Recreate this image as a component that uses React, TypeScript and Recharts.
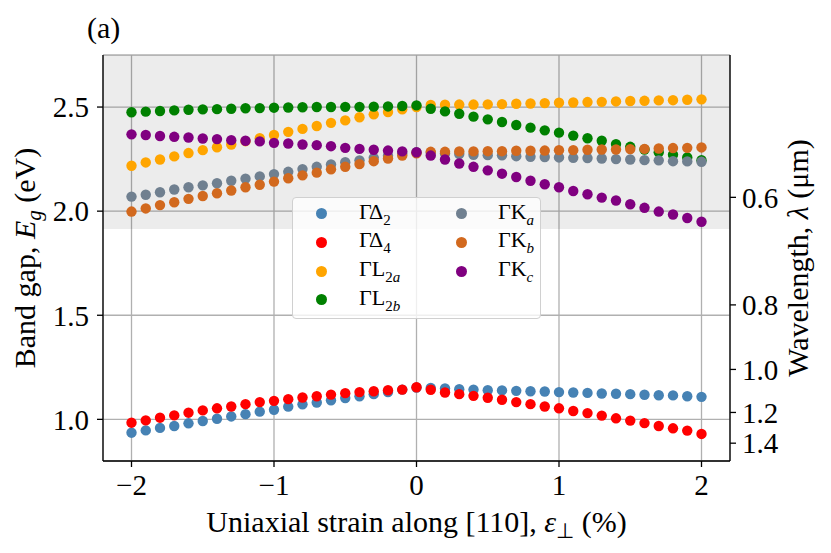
import React from "react";
import {
  ScatterChart,
  Scatter,
  XAxis,
  YAxis,
  CartesianGrid,
  ReferenceArea,
  Legend,
} from "recharts";

const FONT = "'Liberation Serif', 'Times New Roman', serif";

// strain along [110], in %
const STRAIN = [
  -2.0, -1.9, -1.8, -1.7, -1.6, -1.5, -1.4, -1.3, -1.2, -1.1, -1.0, -0.9, -0.8,
  -0.7, -0.6, -0.5, -0.4, -0.3, -0.2, -0.1, 0.0, 0.1, 0.2, 0.3, 0.4, 0.5, 0.6,
  0.7, 0.8, 0.9, 1.0, 1.1, 1.2, 1.3, 1.4, 1.5, 1.6, 1.7, 1.8, 1.9, 2.0,
];

// band gaps (eV)
const G_DELTA2 = [
  0.936, 0.947, 0.959, 0.968, 0.981, 0.992, 1.003, 1.014, 1.025, 1.037, 1.046,
  1.061, 1.072, 1.081, 1.092, 1.102, 1.111, 1.121, 1.131, 1.143, 1.153, 1.151,
  1.148, 1.145, 1.143, 1.14, 1.139, 1.137, 1.135, 1.134, 1.131, 1.129, 1.127,
  1.124, 1.123, 1.121, 1.118, 1.116, 1.115, 1.111, 1.108,
];
const G_DELTA4 = [
  0.984, 0.995, 1.008, 1.019, 1.032, 1.043, 1.053, 1.062, 1.073, 1.083, 1.089,
  1.097, 1.105, 1.111, 1.119, 1.126, 1.131, 1.135, 1.14, 1.143, 1.154, 1.142,
  1.129, 1.121, 1.113, 1.104, 1.094, 1.083, 1.073, 1.062, 1.053, 1.04, 1.03,
  1.018, 1.005, 0.994, 0.982, 0.968, 0.957, 0.946, 0.93,
];
const G_L2A = [
  2.218, 2.234, 2.248, 2.263, 2.279, 2.293, 2.307, 2.32, 2.336, 2.35, 2.366,
  2.381, 2.395, 2.409, 2.424, 2.436, 2.451, 2.465, 2.476, 2.489, 2.5, 2.51,
  2.511, 2.512, 2.512, 2.513, 2.514, 2.516, 2.517, 2.519, 2.521, 2.522, 2.524,
  2.525, 2.527, 2.529, 2.53, 2.532, 2.533, 2.535, 2.537,
];
const G_L2B = [
  2.475, 2.478, 2.481, 2.484, 2.487, 2.489, 2.49, 2.492, 2.494, 2.495, 2.497,
  2.498, 2.499, 2.5, 2.5, 2.501, 2.501, 2.502, 2.503, 2.505, 2.508, 2.492,
  2.479, 2.468, 2.454, 2.441, 2.428, 2.414, 2.401, 2.388, 2.377, 2.363, 2.35,
  2.338, 2.322, 2.309, 2.296, 2.283, 2.271, 2.258, 2.245,
];
const G_KA = [
  2.07, 2.079, 2.091, 2.104, 2.115, 2.124, 2.134, 2.146, 2.156, 2.167, 2.178,
  2.189, 2.202, 2.213, 2.224, 2.235, 2.244, 2.256, 2.266, 2.276, 2.283, 2.28,
  2.277, 2.274, 2.271, 2.269, 2.268, 2.264, 2.261, 2.26, 2.258, 2.256, 2.255,
  2.253, 2.25, 2.248, 2.245, 2.244, 2.24, 2.239, 2.237,
];
const G_KB = [
  1.998, 2.013, 2.029, 2.043, 2.059, 2.073, 2.086, 2.099, 2.115, 2.127, 2.142,
  2.158, 2.172, 2.185, 2.201, 2.213, 2.226, 2.24, 2.253, 2.267, 2.278, 2.285,
  2.285, 2.287, 2.287, 2.288, 2.288, 2.29, 2.29, 2.291, 2.293, 2.293, 2.295,
  2.296, 2.296, 2.298, 2.299, 2.301, 2.303, 2.304, 2.306,
];
const G_KC = [
  2.369, 2.366, 2.361, 2.357, 2.354, 2.349, 2.346, 2.341, 2.338, 2.335, 2.328,
  2.325, 2.32, 2.317, 2.312, 2.304, 2.299, 2.295, 2.291, 2.287, 2.283, 2.267,
  2.248, 2.229, 2.213, 2.196, 2.18, 2.164, 2.146, 2.129, 2.115, 2.097, 2.081,
  2.065, 2.051, 2.033, 2.016, 1.998, 1.984, 1.967, 1.949,
];

const X_TICKS = [-2, -1, 0, 1, 2];
const Y_TICKS = [1.0, 1.5, 2.0, 2.5];
const WAVELENGTH_TICKS = [0.6, 0.8, 1.0, 1.2, 1.4]; // um
const HC = 1.2398; // eV * um
const VISIBLE_EDGE = 1.914; // eV, lower edge of shaded band

const sub = (t: string, italic = false) => (
  <span
    style={{
      fontSize: 15,
      position: "relative",
      top: 6,
      fontStyle: italic ? "italic" : "normal",
    }}
  >
    {t}
  </span>
);

const SERIES = [
  { key: "d2", color: "#4682B4", values: G_DELTA2, label: <>ΓΔ{sub("2")}</> },
  { key: "d4", color: "#FF0000", values: G_DELTA4, label: <>ΓΔ{sub("4")}</> },
  {
    key: "l2a",
    color: "#FFA500",
    values: G_L2A,
    label: (
      <>
        ΓL
        <span style={{ fontSize: 15, position: "relative", top: 6 }}>
          2<i>a</i>
        </span>
      </>
    ),
  },
  {
    key: "l2b",
    color: "#008000",
    values: G_L2B,
    label: (
      <>
        ΓL
        <span style={{ fontSize: 15, position: "relative", top: 6 }}>
          2<i>b</i>
        </span>
      </>
    ),
  },
  { key: "ka", color: "#708090", values: G_KA, label: <>ΓK{sub("a", true)}</> },
  { key: "kb", color: "#D2691E", values: G_KB, label: <>ΓK{sub("b", true)}</> },
  { key: "kc", color: "#800080", values: G_KC, label: <>ΓK{sub("c", true)}</> },
];

const fmtMinus = (v: number) => (v < 0 ? `\u2212${Math.abs(v)}` : `${v}`);

function LegendBox() {
  // two columns: 4 entries then 3 entries
  const rows = 4;
  return (
    <div
      style={{
        position: "relative",
        width: 249,
        height: 122,
        boxSizing: "border-box",
        background: "rgba(255,255,255,0.8)",
        border: "1.2px solid #d0d0d0",
        borderRadius: 4,
        fontFamily: FONT,
        fontSize: 22,
        color: "#000",
      }}
    >
      {SERIES.map((s, i) => {
        const col = Math.floor(i / rows);
        const row = i % rows;
        const top = 15.5 + row * 28.8;
        return (
          <div key={s.key}>
            <div
              style={{
                position: "absolute",
                left: (col ? 168 : 28) - 5.5,
                top: top - 5.5,
                width: 11,
                height: 11,
                borderRadius: "50%",
                background: s.color,
              }}
            />
            <div
              style={{
                position: "absolute",
                left: col ? 205 : 66,
                top: top - 14,
                lineHeight: "24px",
                whiteSpace: "nowrap",
              }}
            >
              {s.label}
            </div>
          </div>
        );
      })}
    </div>
  );
}

function BandGapLabel({ viewBox }: any) {
  const cx = viewBox.x + 35;
  const cy = viewBox.y + viewBox.height / 2;
  return (
    <text
      x={cx}
      y={cy}
      transform={`rotate(-90 ${cx} ${cy})`}
      textAnchor="middle"
      fontFamily={FONT}
      fontSize={30}
      fill="#000"
    >
      Band gap, <tspan fontStyle="italic">E</tspan>
      <tspan fontStyle="italic" fontSize={21} dy={6}>
        g
      </tspan>
      <tspan dy={-6}> (eV)</tspan>
    </text>
  );
}

function WavelengthLabel({ viewBox }: any) {
  const cx = viewBox.x + 78;
  const cy = viewBox.y + viewBox.height / 2;
  return (
    <text
      x={cx}
      y={cy}
      transform={`rotate(-90 ${cx} ${cy})`}
      textAnchor="middle"
      fontFamily={FONT}
      fontSize={30}
      fill="#000"
    >
      Wavelength, <tspan fontStyle="italic">λ</tspan> (μm)
    </text>
  );
}

function StrainLabel({ viewBox }: any) {
  const cx = viewBox.x + viewBox.width / 2;
  const cy = viewBox.y + 71;
  return (
    <text
      x={cx}
      y={cy}
      textAnchor="middle"
      fontFamily={FONT}
      fontSize={30}
      fill="#000"
    >
      Uniaxial strain along [110], <tspan fontStyle="italic">ε</tspan>
      <tspan fontSize={21} dy={6}>
        ⊥
      </tspan>
      <tspan dy={-6}> (%)</tspan>
    </text>
  );
}

const tickStyle = { fontFamily: FONT, fontSize: 29, fill: "#000" };
const axisStroke = { stroke: "#000", strokeWidth: 1.3 };

export default function App() {
  const rightTicks = WAVELENGTH_TICKS.map((l) => HC / l);
  return (
    <div style={{ position: "absolute", left: 0, top: 0, background: "#fff" }}>
      <div
        style={{
          position: "absolute",
          left: 87,
          top: 11,
          fontFamily: FONT,
          fontSize: 30,
          zIndex: 2,
        }}
      >
        (a)
      </div>
      <ScatterChart
        width={831}
        height={553}
        margin={{ top: 55, right: 41, bottom: 42, left: 0 }}
      >
        <ReferenceArea
          xAxisId="bottom"
          yAxisId="left"
          x1={-2.2}
          x2={2.2}
          y1={VISIBLE_EDGE}
          y2={2.75}
          fill="#000"
          fillOpacity={0.075}
          stroke="none"
        />
        <CartesianGrid
          xAxisId="bottom"
          yAxisId="left"
          stroke="#b0b0b0"
          strokeWidth={1.3}
        />
        <XAxis
          xAxisId="bottom"
          dataKey="x"
          type="number"
          domain={[-2.2, 2.2]}
          ticks={X_TICKS}
          tickFormatter={fmtMinus}
          interval={0}
          height={50}
          tickSize={6}
          tickMargin={7}
          tick={tickStyle}
          tickLine={axisStroke}
          axisLine={axisStroke}
          allowDataOverflow
          label={<StrainLabel />}
        />
        <XAxis
          xAxisId="top"
          orientation="top"
          type="number"
          domain={[-2.2, 2.2]}
          height={0}
          tick={false}
          tickLine={false}
          axisLine={axisStroke}
        />
        <YAxis
          yAxisId="left"
          dataKey="y"
          type="number"
          domain={[0.8, 2.75]}
          ticks={Y_TICKS}
          tickFormatter={(v: number) => v.toFixed(1)}
          interval={0}
          width={103}
          tickSize={6}
          tickMargin={8}
          tick={tickStyle}
          tickLine={axisStroke}
          axisLine={axisStroke}
          allowDataOverflow
          label={<BandGapLabel />}
        />
        <YAxis
          yAxisId="right"
          orientation="right"
          type="number"
          domain={[0.8, 2.75]}
          ticks={rightTicks}
          tickFormatter={(v: number) => (HC / v).toFixed(1)}
          interval={0}
          width={60}
          tickSize={6}
          tickMargin={6}
          tick={tickStyle}
          tickLine={axisStroke}
          axisLine={axisStroke}
          allowDataOverflow
          label={<WavelengthLabel />}
        />
        {SERIES.map((s) => (
          <Scatter
            key={s.key}
            xAxisId="bottom"
            yAxisId="left"
            data={STRAIN.map((x, i) => ({ x, y: s.values[i] }))}
            fill={s.color}
            isAnimationActive={false}
            shape={(p: any) => (
              <circle cx={p.cx} cy={p.cy} r={5.2} fill={s.color} />
            )}
          />
        ))}
        <Legend
          layout="vertical"
          align="center"
          verticalAlign="middle"
          wrapperStyle={{ left: 292, top: 197, width: 249, height: 122 }}
          content={() => <LegendBox />}
        />
      </ScatterChart>
    </div>
  );
}
